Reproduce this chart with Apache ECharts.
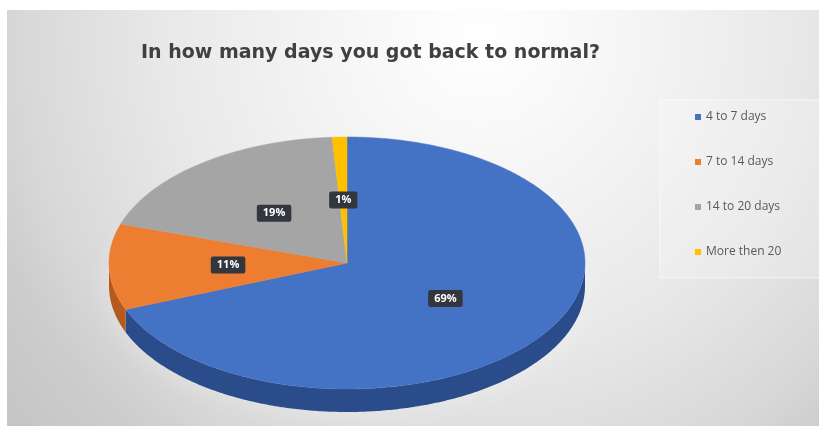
<!DOCTYPE html>
<html>
<head>
<meta charset="utf-8">
<script src="https://cdn.jsdelivr.net/npm/echarts@6/dist/echarts.min.js"></script>
<style>
  html, body { margin: 0; padding: 0; background: #ffffff; width: 819px; height: 426px; overflow: hidden; }
  #chart {
    position: absolute; left: 7px; top: 10px; width: 812px; height: 416px;
    background: radial-gradient(circle 620px at 473px 25px,
      #ffffff 0px, #f5f5f5 150px, #e8e8e8 320px, #d8d8d8 460px, #cdcdcd 520px, #c4c4c4 620px);
  }
</style>
</head>
<body>
<div id="chart"></div>
<script>
// Survey answers: days until back to normal
const categories = ['4 to 7 days', '7 to 14 days', '14 to 20 days', 'More then 20'];
const values = [69, 11, 19, 1];
const sliceColors = ['#4472c4', '#ed7d31', '#a5a5a5', '#ffc000'];
const edgeColors = ['#2b4c8a', '#b45a1f', '#7b7b7b', '#c29200'];
const titleText = 'In how many days you got back to normal?';

const total = values.reduce((s, v) => s + v, 0);
const TAU = Math.PI * 2;

// Tilted pie geometry (ellipse seen in perspective, with a thick rim)
const PIE = { cx: 340, cy: 253, rx: 238, ry: 126, depth: 23 };

const startAngles = [];
values.reduce((acc, v) => { startAngles.push(acc / total * TAU); return acc + v; }, 0);

function pt(t, dy) {
  return [PIE.cx + PIE.rx * Math.sin(t), PIE.cy - PIE.ry * Math.cos(t) + (dy || 0)];
}
function arc(a, b, dy) {
  const n = Math.max(2, Math.ceil((b - a) / 0.01));
  const out = [];
  for (let k = 0; k <= n; k++) out.push(pt(a + (b - a) * k / n, dy));
  return out;
}

function makeRender(i) {
  return function (params, api) {
    const a = startAngles[i];
    const b = a + values[i] / total * TAU;
    const children = [];
    // visible rim: only the front half of the disc
    const s = Math.max(a, Math.PI / 2), e = Math.min(b, Math.PI * 1.5);
    if (s < e) {
      const top = arc(s, e, 0);
      const bottom = arc(s, e, PIE.depth).reverse();
      children.push({ type: 'polygon', shape: { points: top.concat(bottom) }, style: { fill: edgeColors[i] } });
    }
    children.push({
      type: 'polygon',
      shape: { points: [[PIE.cx, PIE.cy]].concat(arc(a, b, 0)) },
      style: { fill: sliceColors[i], stroke: sliceColors[i], lineWidth: 0.5 }
    });
    const m = (a + b) / 2;
    children.push({
      type: 'text',
      x: PIE.cx + 0.5 * PIE.rx * Math.sin(m),
      y: PIE.cy - 0.5 * PIE.ry * Math.cos(m),
      z2: 10,
      style: {
        text: Math.round(values[i] / total * 100) + '%',
        fill: '#ffffff',
        font: 'bold 11px "Open Sans"',
        align: 'center',
        verticalAlign: 'middle',
        backgroundColor: '#33363d',
        padding: [3, 6],
        borderRadius: 2
      }
    });
    return { type: 'group', children: children };
  };
}

const chart = echarts.init(document.getElementById('chart'), null, { renderer: 'canvas' });

chart.setOption({
  backgroundColor: 'transparent',
  animation: false,
  title: {
    text: titleText,
    left: 129,
    top: 29,
    textStyle: { fontFamily: 'DejaVu Sans', fontWeight: 'bold', fontSize: 19, color: '#404040' }
  },
  legend: {
    orient: 'vertical',
    left: 653,
    top: 90,
    padding: [11, 40, 20, 35],
    itemGap: 33,
    itemWidth: 6,
    itemHeight: 6,
    icon: 'rect',
    backgroundColor: 'rgba(255,255,255,0.2)',
    borderColor: 'rgba(255,255,255,0.6)',
    borderWidth: 1,
    textStyle: { fontFamily: 'Open Sans', fontSize: 12, color: '#595959' },
    data: categories
  },
  graphic: [{
    type: 'ellipse',
    z: 0,
    silent: true,
    shape: { cx: PIE.cx, cy: PIE.cy + PIE.depth, rx: PIE.rx, ry: PIE.ry },
    style: { fill: 'rgba(255,255,255,0.3)', shadowBlur: 28, shadowColor: 'rgba(255,255,255,1)' }
  }],
  series: categories.map((name, i) => ({
    type: 'custom',
    name: name,
    coordinateSystem: 'none',
    itemStyle: { color: sliceColors[i] },
    data: [[values[i]]],
    renderItem: makeRender(i),
    silent: true
  }))
});
</script>
</body>
</html>
